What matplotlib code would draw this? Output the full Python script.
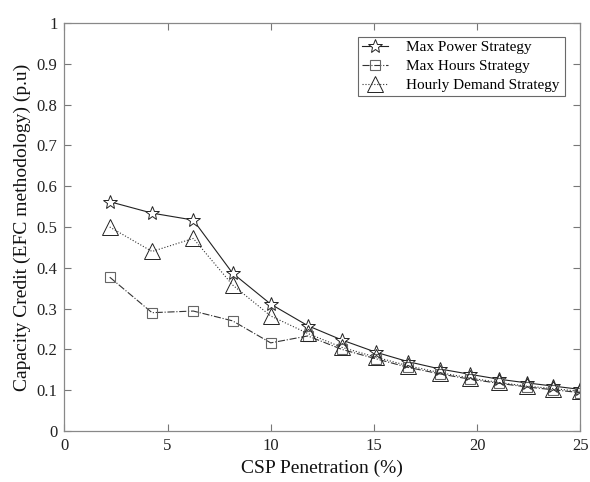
import matplotlib
matplotlib.use("Agg")
import matplotlib.pyplot as plt

plt.rcParams['font.family'] = ['Liberation Serif', 'DejaVu Serif']

penetration = [2.2, 4.25, 6.25, 8.15, 10.0, 11.8, 13.45, 15.1, 16.65, 18.2, 19.65, 21.05, 22.4, 23.7, 25.0]
max_power = [0.562, 0.534, 0.517, 0.387, 0.311, 0.258, 0.223, 0.193, 0.170, 0.152, 0.139, 0.127, 0.118, 0.110, 0.102]
max_hours = [0.377, 0.290, 0.294, 0.270, 0.216, 0.233, 0.200, 0.177, 0.156, 0.140, 0.127, 0.117, 0.108, 0.101, 0.094]
hourly_demand = [0.500, 0.440, 0.472, 0.358, 0.282, 0.239, 0.205, 0.181, 0.160, 0.143, 0.130, 0.119, 0.110, 0.104, 0.097]

fig = plt.figure(figsize=(5.9, 4.82), dpi=100)
ax = fig.add_axes([0.109, 0.1058, 0.8746, 0.8465])

ax.plot(penetration, max_power, '-', color='#222222', lw=0.8, marker='*', ms=10,
        mfc='white', mec='#222222', mew=0.7, label='Max Power Strategy')
ax.plot(penetration, max_hours, '-.', color='#333333', lw=0.8, marker='s', ms=7.5,
        mfc='none', mec='#666666', mew=0.8, label='Max Hours Strategy')
ax.plot(penetration, hourly_demand, ':', color='#333333', lw=0.8, marker='^', ms=11,
        mfc='none', mec='#222222', mew=0.7, label='Hourly Demand Strategy')

ax.set_xlim(0, 25)
ax.set_ylim(0, 1)
ax.set_xticks([0, 5, 10, 15, 20, 25])
ax.set_yticks([i / 10 for i in range(11)])
ax.set_yticklabels(['0', '0.1', '0.2', '0.3', '0.4', '0.5', '0.6', '0.7', '0.8', '0.9', '1'])
ax.tick_params(direction='in', top=True, right=True, labelsize=12, length=5,
               color='#777777', labelcolor='#222222', pad=5)
for s in ax.spines.values():
    s.set_color('#888888')
    s.set_linewidth(0.9)

ax.set_xlabel('CSP Penetration (%)', fontsize=14, color='#111111')
ax.set_ylabel('Capacity Credit (EFC methodology) (p.u)', fontsize=14, color='#111111')

leg = ax.legend(loc='upper left', bbox_to_anchor=(0.569, 0.816, 0.401, 0.150), mode='expand',
                fontsize=11, frameon=True, fancybox=False, edgecolor='#444444',
                handlelength=1.7, borderpad=0.25, labelspacing=0.35,
                handletextpad=1.2, borderaxespad=0.0)
leg.get_frame().set_linewidth(0.8)

fig.savefig('out.png', dpi=100)
